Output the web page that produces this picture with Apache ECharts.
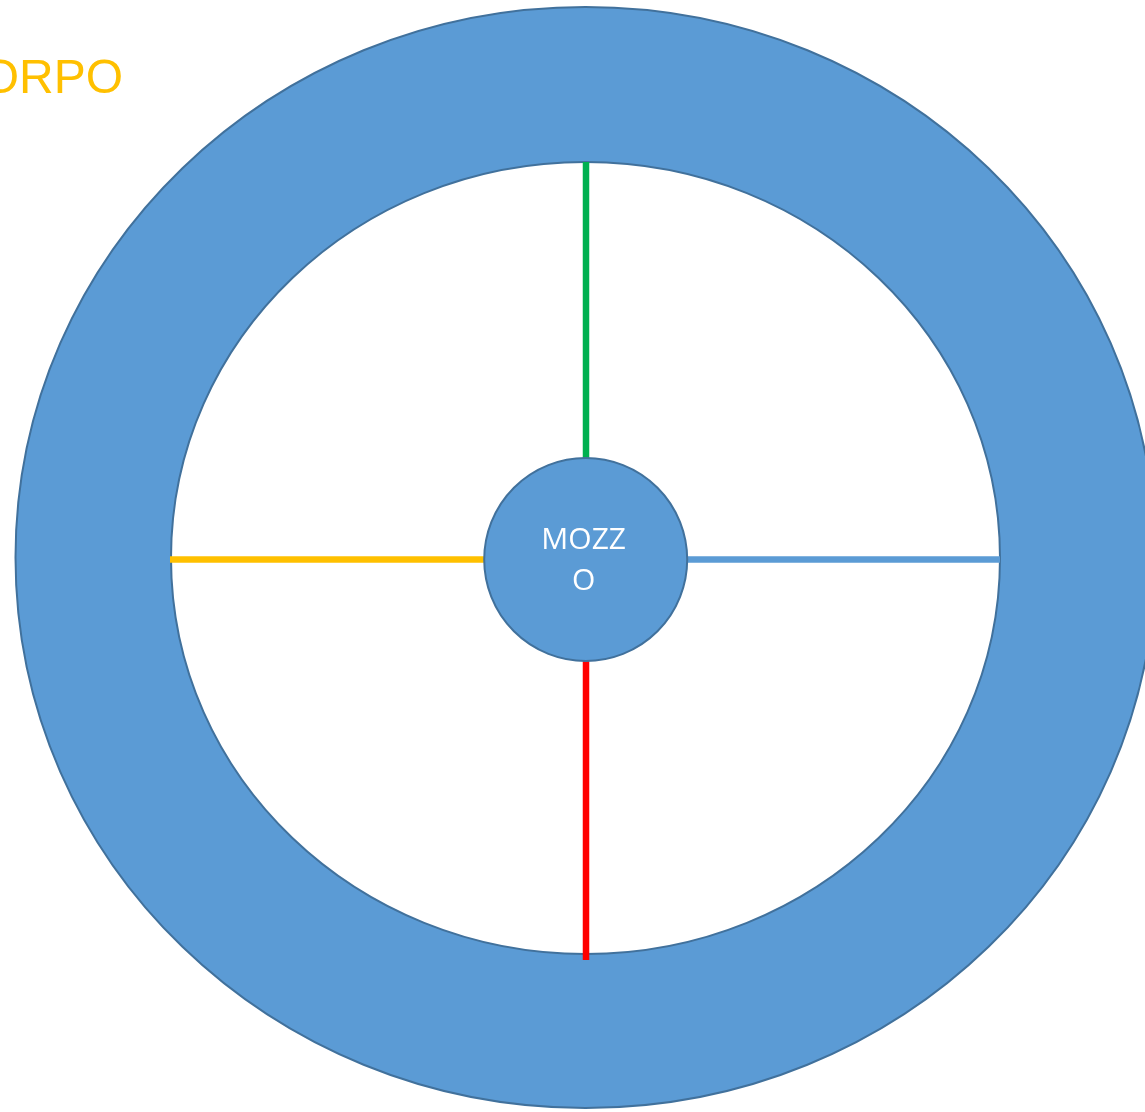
<!DOCTYPE html>
<html>
<head>
<meta charset="utf-8">
<script src="https://cdn.jsdelivr.net/npm/echarts@6/dist/echarts.min.js"></script>
<style>
html,body{margin:0;padding:0;background:#fff;}
#chart{width:1145px;height:1112px;}
</style>
</head>
<body>
<div id="chart"></div>
<script>
// Wheel parts (diagram units = page pixels on hidden value axes)
const ringNames = ['Corpo', 'Interno'];
const ringCenterX = [585.5, 585.5];
const ringCenterY = [557.5, 558];
const ringRadiusX = [570, 414.5];
const ringRadiusY = [550.5, 396];

const hubName = ['MOZZ\nO'];
const hubCenter = [[585.7, 559.5]];
const hubRadius = [101.5];

const spokeNames = ['Alto', 'Basso', 'Sinistra', 'Destra'];
const spokeStart = [[586, 162], [586, 660], [170, 559.5], [686, 559.5]];
const spokeEnd = [[586, 460], [586, 960], [486, 559.5], [1000, 559.5]];
const spokeColors = ['#00B050', '#FF0000', '#FFC000', '#5B9BD5'];

const titleText = ['CORPO'];
const titlePos = [[-53, 80]];

const chart = echarts.init(document.getElementById('chart'));
chart.setOption({
  animation: false,
  backgroundColor: '#ffffff',
  grid: {left: 0, right: 0, top: 0, bottom: 0},
  xAxis: {type: 'value', min: 0, max: 1145, show: false},
  yAxis: {type: 'value', min: 0, max: 1112, inverse: true, show: false},
  series: [
    {
      type: 'custom',
      name: 'ring',
      coordinateSystem: 'cartesian2d',
      data: ringNames.map((n, i) => [ringCenterX[i], ringCenterY[i], ringRadiusX[i], ringRadiusY[i]]),
      renderItem: function (params, api) {
        const c = api.coord([api.value(0), api.value(1)]);
        const s = api.size([api.value(2), api.value(3)]);
        return {
          type: 'ellipse',
          shape: {cx: c[0], cy: c[1], rx: Math.abs(s[0]), ry: Math.abs(s[1])},
          style: {
            fill: params.dataIndex === 0 ? '#5B9BD5' : '#ffffff',
            stroke: '#41719C',
            lineWidth: 2
          }
        };
      },
      z: 1
    },
    {
      type: 'custom',
      name: 'spokes',
      coordinateSystem: 'cartesian2d',
      data: spokeNames.map((n, i) => [spokeStart[i][0], spokeStart[i][1], spokeEnd[i][0], spokeEnd[i][1]]),
      renderItem: function (params, api) {
        const a = api.coord([api.value(0), api.value(1)]);
        const b = api.coord([api.value(2), api.value(3)]);
        return {
          type: 'line',
          shape: {x1: a[0], y1: a[1], x2: b[0], y2: b[1]},
          style: {stroke: spokeColors[params.dataIndex], lineWidth: 6.5}
        };
      },
      z: 2
    },
    {
      type: 'custom',
      name: 'hub',
      coordinateSystem: 'cartesian2d',
      data: hubName.map((n, i) => [hubCenter[i][0], hubCenter[i][1], hubRadius[i]]),
      renderItem: function (params, api) {
        const c = api.coord([api.value(0), api.value(1)]);
        const r = Math.abs(api.size([api.value(2), 0])[0]);
        return {
          type: 'group',
          children: [
            {
              type: 'circle',
              shape: {cx: c[0], cy: c[1], r: r},
              style: {fill: '#5B9BD5', stroke: '#41719C', lineWidth: 2}
            },
            {
              type: 'text',
              x: c[0] - 2,
              y: c[1] + 1,
              style: {
                text: hubName[params.dataIndex],
                fill: '#ffffff',
                font: '30px "Open Sans"',
                lineHeight: 41,
                align: 'center',
                verticalAlign: 'middle'
              }
            }
          ]
        };
      },
      z: 3
    },
    {
      type: 'custom',
      name: 'title',
      coordinateSystem: 'cartesian2d',
      data: titleText.map((t, i) => [titlePos[i][0], titlePos[i][1]]),
      renderItem: function (params, api) {
        const c = api.coord([api.value(0), api.value(1)]);
        return {
          type: 'text',
          x: c[0],
          y: c[1],
          style: {
            text: titleText[params.dataIndex],
            fill: '#FFC000',
            font: '48px "Liberation Sans"',
            align: 'left',
            verticalAlign: 'middle'
          }
        };
      },
      z: 4
    }
  ]
});
</script>
</body>
</html>
